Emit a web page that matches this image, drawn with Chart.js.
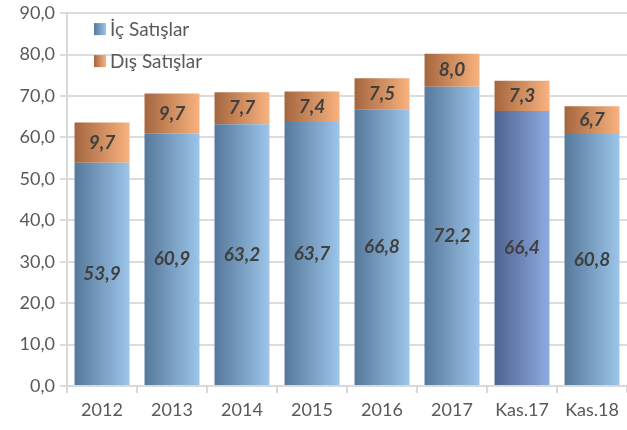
<!DOCTYPE html>
<html>
<head>
<meta charset="utf-8">
<script src="https://cdn.jsdelivr.net/npm/chart.js@4.4.1/dist/chart.umd.min.js"></script>
<style>
    body { margin: 0; background: #ffffff; }
    #wrap { width: 627px; height: 430px; }
</style>
</head>
<body>
<div id="wrap"><canvas id="salesChart" width="627" height="430"></canvas></div>
<script>
const categories = ["2012", "2013", "2014", "2015", "2016", "2017", "Kas.17", "Kas.18"];
const icSatislar = [53.9, 60.9, 63.2, 63.7, 66.8, 72.2, 66.4, 60.8];
const disSatislar = [9.7, 9.7, 7.7, 7.4, 7.5, 8.0, 7.3, 6.7];
const seriesNames = ["İç Satışlar", "Dış Satışlar"];
const yMin = 0;
const yMax = 90;
const yStep = 10;

const barPct = 0.785;
const blueStops = ["#56789a", "#9cc5ea"];
const blueStopsAlt = ["#4e6391", "#8eabe0"];
const orangeStops = ["#a5663f", "#f8b27e"];

function fmt(v) {
    return v.toFixed(1).replace(".", ",");
}

function barGradient(ctx, stops) {
    const chart = ctx.chart;
    const xs = chart.scales.x;
    if (!xs || !xs.width) return stops[1];
    const c = xs.getPixelForValue(ctx.dataIndex);
    const half = (xs.width / categories.length) * barPct / 2;
    const g = chart.ctx.createLinearGradient(c - half, 0, c + half, 0);
    g.addColorStop(0, stops[0]);
    g.addColorStop(1, stops[1]);
    return g;
}

const valueLabels = {
    id: "valueLabels",
    afterDatasetsDraw(chart) {
        const ctx = chart.ctx;
        ctx.save();
        ctx.font = "italic bold 19px Lato";
        ctx.fillStyle = "#404040";
        ctx.textAlign = "center";
        ctx.textBaseline = "middle";
        chart.data.datasets.forEach((ds, di) => {
            const meta = chart.getDatasetMeta(di);
            meta.data.forEach((el, i) => {
                const p = el.getProps(["x", "y", "base"], true);
                ctx.fillText(fmt(ds.data[i]), p.x, (p.y + p.base) / 2);
            });
        });
        ctx.restore();
    }
};

const innerLegend = {
    id: "innerLegend",
    afterDraw(chart) {
        const ctx = chart.ctx;
        const area = chart.chartArea;
        const stops = [blueStops, orangeStops];
        ctx.save();
        ctx.font = "19px Lato";
        ctx.textBaseline = "middle";
        seriesNames.forEach((name, i) => {
            const bx = area.left + 27;
            const cy = area.top + 16 + i * 32;
            const g = ctx.createLinearGradient(bx, 0, bx + 12, 0);
            g.addColorStop(0, stops[i][0]);
            g.addColorStop(1, stops[i][1]);
            ctx.fillStyle = g;
            ctx.fillRect(bx, cy - 6, 12, 12);
            ctx.fillStyle = "#595959";
            ctx.fillText(name, bx + 16, cy + 1);
        });
        ctx.restore();
    }
};

new Chart(document.getElementById("salesChart"), {
    type: "bar",
    data: {
        labels: categories,
        datasets: [
            {
                label: seriesNames[0],
                data: icSatislar,
                backgroundColor: ctx =>
                    barGradient(ctx, ctx.dataIndex === 6 ? blueStopsAlt : blueStops),
                barPercentage: barPct,
                categoryPercentage: 1
            },
            {
                label: seriesNames[1],
                data: disSatislar,
                backgroundColor: ctx => barGradient(ctx, orangeStops),
                barPercentage: barPct,
                categoryPercentage: 1
            }
        ]
    },
    options: {
        responsive: false,
        animation: false,
        layout: { padding: { top: 12, right: 0, left: 0, bottom: 0 } },
        plugins: {
            legend: { display: false },
            tooltip: { enabled: false }
        },
        scales: {
            x: {
                stacked: true,
                afterFit: s => { s.height = 44; },
                grid: {
                    offset: true,
                    drawOnChartArea: false,
                    color: "#d9d9d9",
                    lineWidth: 2,
                    tickLength: 7
                },
                border: { color: "#d9d9d9", width: 2 },
                ticks: {
                    color: "#595959",
                    font: { family: "Lato", size: 18 },
                    padding: 6,
                    maxRotation: 0,
                    autoSkip: false
                }
            },
            y: {
                stacked: true,
                min: yMin,
                max: yMax,
                afterFit: s => { s.width = 67; },
                grid: {
                    color: "#dcdcdc",
                    lineWidth: 2,
                    tickLength: 7
                },
                border: { color: "#d9d9d9", width: 2 },
                ticks: {
                    stepSize: yStep,
                    color: "#595959",
                    font: { family: "Lato", size: 18, lineHeight: 0.9 },
                    padding: 5,
                    callback: v => fmt(v)
                }
            }
        }
    },
    plugins: [valueLabels, innerLegend]
});
</script>
</body>
</html>
